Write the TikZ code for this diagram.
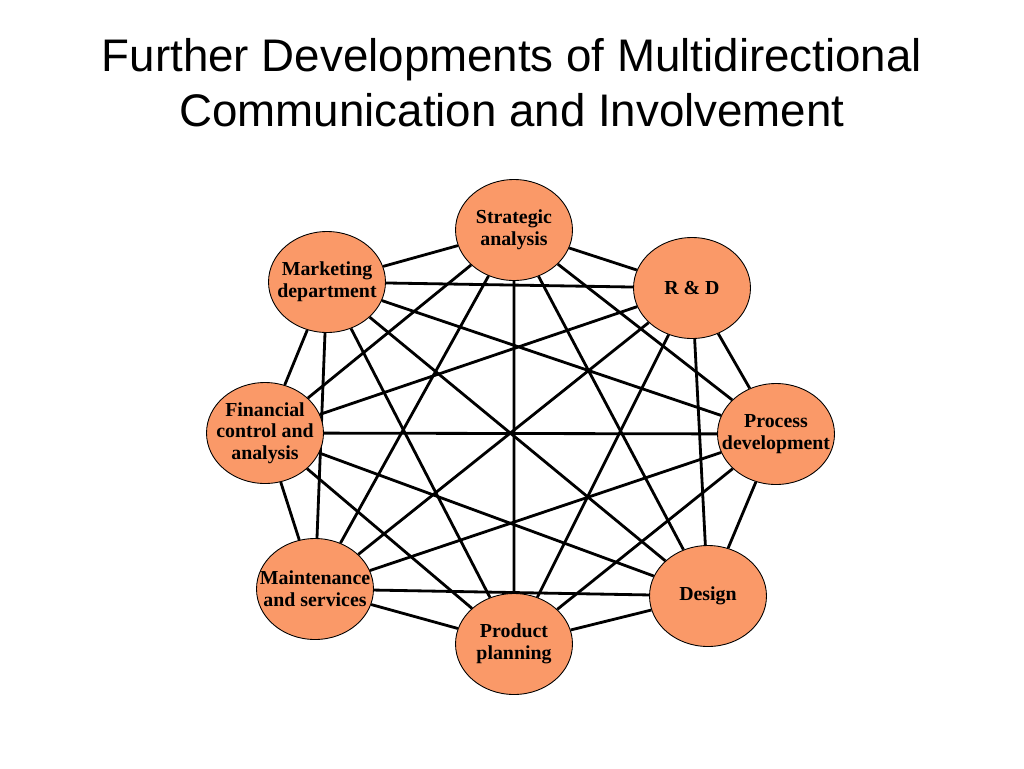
\documentclass[tikz,border=0pt]{standalone}
\usepackage{fontspec}
\setmainfont{Liberation Serif}
\setsansfont{Liberation Sans}
\usepackage{xcolor}
\usetikzlibrary{shapes.geometric}
\usetikzlibrary{backgrounds}
\definecolor{unitfill}{RGB}{250,153,104}

\begin{document}
\begin{tikzpicture}[x=0.02cm,y=-0.02cm,
    unit/.style={ellipse,draw=black,line width=0.5pt,fill=unitfill,
        minimum width=2.34cm,minimum height=2.02cm,inner sep=0pt},
    unitname/.style={inner sep=0pt,align=center,
        font=\fontsize{11.3}{12.3}\selectfont\bfseries},
    link/.style={line width=1.6pt}]
    \useasboundingbox (0,0) rectangle (1024,768);

%title
    \node (T) at (512,38) [anchor=north,inner sep=0pt,align=center,
        font=\sffamily\fontsize{26}{31.2}\selectfont]
        {Further Developments of Multidirectional\\Communication and Involvement};

%units
    \node (D1) at (514,230) [unit] {};
    \node (D2) at (692,288) [unit] {};
    \node (D3) at (776,434) [unit] {};
    \node (D4) at (708,596) [unit] {};
    \node (D5) at (514,644) [unit] {};
    \node (D6) at (315,589) [unit] {};
    \node (D7) at (265,433) [unit] {};
    \node (D8) at (327,282) [unit] {};

%labels
    \node at (D1) [unitname] {Strategic\\analysis};
    \node at (D2) [unitname] {R \& D};
    \node at (D3) [unitname] {Process\\development};
    \node at (D4) [unitname] {Design};
    \node at (D5) [unitname] {Product\\planning};
    \node at (D6) [unitname] {Maintenance\\and services};
    \node at (D7) [unitname] {Financial\\control and\\analysis};
    \node at (D8) [unitname] {Marketing\\department};

%links
    \begin{scope}[on background layer]
    \fill[white] (0,0) rectangle (1024,768);
    \draw[link] (D1) -- (D2) (D1) -- (D3) (D1) -- (D4) (D1) -- (D5)
                (D1) -- (D6) (D1) -- (D7) (D1) -- (D8);
    \draw[link] (D2) -- (D3) (D2) -- (D4) (D2) -- (D5) (D2) -- (D6)
                (D2) -- (D7) (D2) -- (D8);
    \draw[link] (D3) -- (D4) (D3) -- (D5) (D3) -- (D6) (D3) -- (D7)
                (D3) -- (D8);
    \draw[link] (D4) -- (D5) (D4) -- (D6) (D4) -- (D7) (D4) -- (D8);
    \draw[link] (D5) -- (D6) (D5) -- (D7) (D5) -- (D8);
    \draw[link] (D6) -- (D7) (D6) -- (D8);
    \draw[link] (D7) -- (D8);
    \end{scope}

\end{tikzpicture}
\end{document}
